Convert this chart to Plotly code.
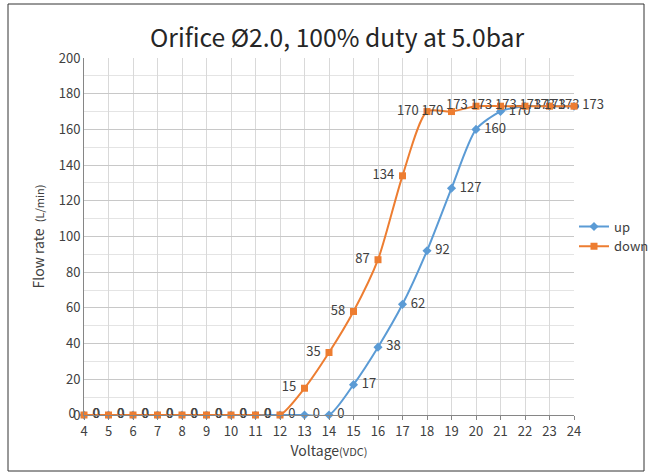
import plotly.graph_objects as go

voltage = [4, 5, 6, 7, 8, 9, 10, 11, 12, 13, 14, 15, 16, 17, 18, 19, 20, 21, 22, 23, 24]
up = [0, 0, 0, 0, 0, 0, 0, 0, 0, 0, 0, 17, 38, 62, 92, 127, 160, 170, 173, 173, 173]
down = [0, 0, 0, 0, 0, 0, 0, 0, 0, 15, 35, 58, 87, 134, 170, 170, 173, 173, 173, 173, 173]

FONT = "Noto Sans CJK KR"
BLUE = "#5B9BD5"
ORANGE = "#ED7D31"
TXT = "#404040"
NB = "\u00a0"

fig = go.Figure()
fig.add_trace(go.Scatter(
    x=voltage, y=up, name="up", mode="lines+markers+text",
    line=dict(color=BLUE, width=2, shape="spline", smoothing=0.7),
    marker=dict(symbol="diamond", size=7, color=BLUE),
    text=[NB + str(v) for v in up], textposition="middle right",
    textfont=dict(family=FONT, size=13, color=TXT), cliponaxis=False,
))
fig.add_trace(go.Scatter(
    x=voltage, y=down, name="down", mode="lines+markers+text",
    line=dict(color=ORANGE, width=2, shape="spline", smoothing=0.7),
    marker=dict(symbol="square", size=7, color=ORANGE),
    text=[str(v) + NB for v in down], textposition="middle left",
    textfont=dict(family=FONT, size=13, color=TXT), cliponaxis=False,
))

fig.update_layout(
    width=648, height=473,
    margin=dict(l=84, r=74, t=58, b=58, autoexpand=False),
    paper_bgcolor="white", plot_bgcolor="white",
    font=dict(family=FONT, size=12, color=TXT),
    title=dict(text="Orifice Ø2.0, 100% duty at 5.0bar", x=337 / 648, xanchor="center",
               y=1 - 38 / 473, yanchor="middle",
               font=dict(family=FONT, size=24.7, color="#262626")),
    showlegend=True,
    legend=dict(x=1.0, y=0.5, xanchor="left", yanchor="middle",
                font=dict(family=FONT, size=13, color=TXT),
                bgcolor="rgba(0,0,0,0)", itemwidth=30, tracegroupgap=2),
    xaxis=dict(
        range=[4, 24], dtick=1, tick0=4,
        showgrid=True, gridcolor="#d9d9d9", gridwidth=1,
        showline=True, linecolor="#868686", linewidth=1,
        ticks="outside", ticklen=4, tickcolor="#868686",
        tickfont=dict(family=FONT, size=13, color=TXT),
        zeroline=False,
        title=dict(text="Voltage<span style='font-size:11px'>(VDC)</span>",
                   font=dict(family=FONT, size=14, color=TXT), standoff=4),
    ),
    yaxis=dict(
        range=[0, 200], dtick=20,
        showgrid=True, gridcolor="#c8c8c8", gridwidth=1,
        minor=dict(dtick=10, showgrid=True, gridcolor="#e4e4e4"),
        showline=True, linecolor="#868686", linewidth=1,
        ticks="", tickfont=dict(family=FONT, size=13, color=TXT),
        zeroline=False,
        title=dict(text="Flow rate  <span style='font-size:11px'>(L/min)</span>",
                   font=dict(family=FONT, size=14, color=TXT), standoff=10),
    ),
    shapes=[dict(type="rect", xref="paper", yref="paper",
                 x0=(8 - 84) / 490, x1=(644 - 84) / 490,
                 y0=(415 - 471) / 357, y1=(415 - 4) / 357,
                 line=dict(color="#333333", width=1), fillcolor="rgba(0,0,0,0)",
                 layer="below")],
)

fig.write_html("out.html", config={"displayModeBar": False},
               post_script="document.body.style.margin='0px';")
